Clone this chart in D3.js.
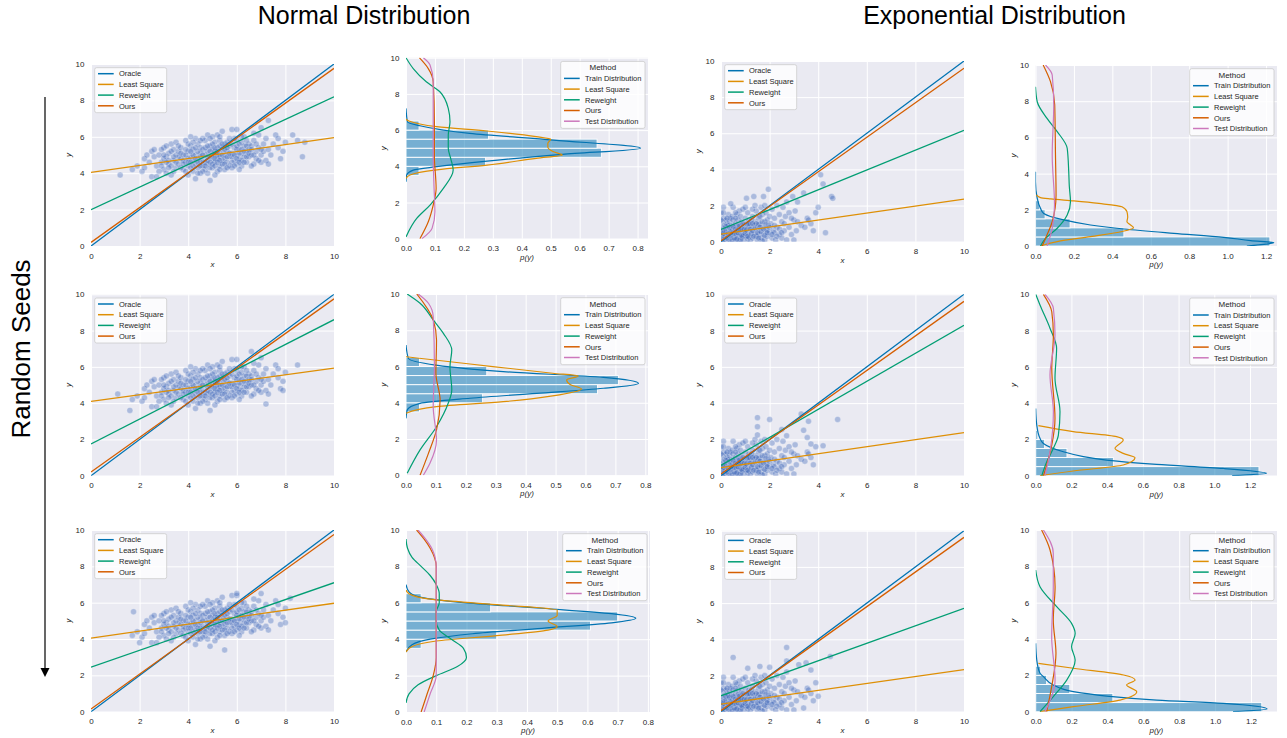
<!DOCTYPE html>
<html>
<head>
<meta charset="utf-8">
<script src="https://cdn.jsdelivr.net/npm/d3@7"></script>
<style>
body { margin: 0; background: #fff; }
text { font-family: "Liberation Sans", Arial, sans-serif; }
</style>
</head>
<body>
<script>
// ---- scatter clouds (x, y) ----
const normPts = [
  [1.7,4.2],[1.9,4.4],[2.1,4.1],[2.2,4.8],[2.3,5.0],[2.4,4.6],[2.5,5.2],[2.2,4.3],[2.6,4.9],[2.7,4.4],[2.5,3.8],
  [2.8,5.0],[2.9,4.6],[3.0,5.4],[3.0,4.2],[3.1,4.9],[3.2,5.1],[3.2,4.5],[3.3,3.9],[3.3,5.6],[3.4,4.7],[3.4,5.3],
  [3.5,4.3],[3.5,5.0],[2.8,4.1],[2.9,5.3],[3.1,4.0],[3.0,4.8],[3.2,4.7],[3.4,4.1],[3.5,5.7],[3.1,5.5],[2.7,3.8],
  [3.3,4.4],[3.6,4.9],[3.6,5.2],[3.6,4.5],
  [3.7,4.8],[3.7,5.4],[3.8,4.2],[3.8,5.0],[3.9,4.6],[3.9,5.8],[4.0,4.4],[4.0,5.2],[4.0,3.9],[4.1,4.9],[4.1,5.5],
  [4.2,4.1],[4.2,4.7],[4.2,5.3],[4.3,4.5],[4.3,5.0],[4.3,5.9],[4.4,4.3],[4.4,4.8],[4.4,5.6],[4.5,4.0],[4.5,5.1],
  [4.5,5.4],[3.8,4.7],[3.9,5.3],[4.0,4.8],[4.1,4.3],[4.2,5.0],[4.3,3.7],[4.4,5.2],[4.5,4.6],[3.7,4.3],[4.1,6.0],
  [4.2,4.4],[4.0,5.6],[4.4,4.0],
  [4.6,4.7],[4.6,5.3],[4.7,4.2],[4.7,5.0],[4.7,5.8],[4.8,4.5],[4.8,5.2],[4.8,6.1],[4.9,3.6],[4.9,4.9],[4.9,5.5],
  [5.0,4.3],[5.0,4.8],[5.0,5.3],[5.1,4.6],[5.1,5.0],[5.1,5.7],[5.2,4.1],[5.2,4.8],[5.2,5.4],[5.2,6.1],[5.3,4.4],
  [5.3,5.1],[5.3,5.8],[5.4,4.7],[5.4,5.3],[5.5,4.2],[5.5,5.0],[5.5,5.6],[4.6,4.4],[4.7,4.6],[4.8,4.9],[4.9,5.2],
  [5.0,5.0],[5.1,5.2],[5.2,5.0],[5.3,4.9],[5.4,5.0],[5.5,4.8],[4.6,5.9],[5.0,6.0],[5.4,6.3],[5.1,3.9],[4.8,4.0],
  [5.3,4.2],
  [5.6,4.6],[5.6,5.2],[5.7,4.9],[5.7,5.5],[5.8,4.3],[5.8,5.1],[5.8,6.4],[5.9,4.7],[5.9,5.4],[6.0,4.5],[6.0,5.0],
  [6.0,5.8],[6.1,4.8],[6.1,5.3],[6.2,4.4],[6.2,5.1],[6.2,5.7],[6.3,4.9],[6.3,5.5],[6.4,4.6],[6.4,5.2],[6.5,4.9],
  [6.5,5.6],[5.6,5.7],[5.7,4.4],[5.9,5.9],[6.0,6.4],[6.1,4.2],[6.3,6.0],[6.4,5.5],[5.8,4.9],[6.1,5.1],[6.2,4.7],
  [6.5,5.3],[5.6,4.9],[6.0,5.3],
  [6.6,5.0],[6.6,5.5],[6.7,4.5],[6.7,5.8],[6.8,5.2],[6.8,4.8],[6.9,5.4],[6.9,6.1],[7.0,5.0],[7.0,4.6],[7.1,5.6],
  [7.1,5.2],[7.2,4.7],[7.2,5.9],[7.3,5.3],[7.3,4.5],[7.4,5.0],[7.5,5.6],[6.7,6.2],[7.0,6.5],[6.6,4.4],
  [7.6,6.1],[7.7,5.4],[7.8,4.8],[7.9,5.2],[8.0,5.7],[7.7,5.9],
  [3.6,5.5],[3.7,5.1],[3.8,4.5],[3.9,4.1],[3.9,5.0],[4.0,4.6],[4.1,5.2],[4.1,4.6],[4.2,5.7],[4.3,4.8],[4.3,5.4],
  [4.4,4.6],[4.5,4.4],[4.5,4.9],[4.5,5.8],[4.6,5.0],[4.6,4.1],[4.7,5.4],[4.7,4.4],[4.8,4.7],[4.8,5.5],[4.9,4.3],
  [4.9,4.6],[4.9,5.9],[5.0,4.5],[5.0,5.6],[5.1,4.4],[5.1,4.8],[5.1,5.4],[5.2,4.6],[5.2,5.2],[5.3,4.7],[5.3,5.5],
  [5.3,6.0],[5.4,4.5],[5.4,5.6],[5.5,4.5],[5.5,5.3],[5.6,4.3],[5.6,5.4],[5.7,5.1],[5.7,5.9],[5.8,4.6],[5.8,5.6],
  [5.9,5.0],[5.9,4.4],[6.0,4.8],[6.0,5.5],[6.1,5.6],[6.1,4.6],[6.2,5.3],[6.2,6.0],[6.3,4.6],[6.3,5.2],[6.4,4.9],
  [6.4,5.8],[6.5,5.1],[6.6,5.3],[6.7,5.0],[6.8,5.6],[6.9,4.7],[7.0,5.3],[3.4,4.9],[3.3,5.2],[3.2,4.3],[3.0,5.0],
  [2.9,4.4],[3.5,4.6],[3.1,4.6],[2.6,5.3]
];
const normExtra = [
  [[1.2,3.9],[8.7,4.9],[8.3,6.1],[8.5,5.8],[7.3,6.9],[8.8,5.7]],
  [[1.1,4.5],[1.6,3.6],[8.5,6.1],[7.9,4.7],[7.2,3.95],[6.6,6.85]],
  [[1.75,5.5],[2.0,3.8],[5.5,3.4],[8.2,6.25],[8.0,4.9],[6.0,6.5]]
];
const expPts = [
  [0.0,0.2],[0.0,0.8],[0.0,1.6],[0.05,0.5],[0.05,1.1],[0.1,0.1],[0.1,0.7],[0.1,1.3],[0.15,0.3],[0.15,0.9],[0.2,0.05],
  [0.2,0.6],[0.2,1.2],[0.25,0.4],[0.25,1.0],[0.3,0.15],[0.3,0.7],[0.3,1.5],[0.35,0.3],[0.35,1.1],[0.4,0.05],[0.4,0.6],
  [0.45,0.9],[0.45,1.4],[0.5,0.2],[0.5,0.5],[0.5,1.2],[0.05,0.0],[0.1,1.9],[0.2,0.3],[0.3,0.9],[0.4,1.3],
  [0.5,1.9],[0.45,0.1],
  [0.55,0.8],[0.6,0.1],[0.6,0.5],[0.6,1.0],[0.65,1.5],[0.7,0.3],[0.7,0.7],[0.7,1.2],[0.75,0.05],[0.75,1.7],[0.8,0.4],
  [0.8,0.9],[0.8,1.4],[0.85,0.2],[0.85,1.1],[0.9,0.6],[0.9,1.8],[0.95,0.1],[0.95,0.9],[1.0,0.3],[1.0,0.7],[1.0,1.3],
  [1.05,1.0],[1.1,0.15],[1.1,0.5],[1.1,1.6],[1.15,0.8],[1.15,1.2],[1.2,0.05],[1.2,0.4],[0.65,0.4],
  [0.75,0.6],[0.85,0.7],[0.95,0.5],[1.0,1.9],[0.6,1.3],[0.9,0.3],[1.1,0.9],[0.55,0.2],[0.7,0.95],[0.8,0.1],[1.2,1.0],
  [1.15,0.25],
  [1.25,0.7],[1.3,1.4],[1.3,0.2],[1.35,0.9],[1.4,0.5],[1.4,1.1],[1.45,1.7],[1.5,0.1],[1.5,0.8],[1.55,0.4],
  [1.55,1.3],[1.6,0.6],[1.6,1.0],[1.65,1.9],[1.65,0.2],[1.7,0.8],[1.7,1.5],[1.75,0.4],[1.8,1.1],[1.8,0.1],
  [1.85,0.7],[1.85,1.6],[1.9,0.3],[1.9,1.2],[1.95,0.9],[2.0,0.5],[2.0,1.4],[1.3,1.8],[1.45,0.3],[1.6,1.4],
  [1.7,0.05],[1.8,2.0],[1.9,0.6],[1.4,2.0],[1.55,0.95],[1.25,1.2],
  [2.05,1.0],[2.1,0.2],[2.1,1.8],[2.15,0.6],[2.2,1.3],[2.25,0.1],[2.3,0.8],[2.3,2.0],[2.4,0.4],[2.4,1.5],[2.5,1.1],
  [2.5,0.2],[2.55,1.9],[2.6,0.6],[2.65,1.4],[2.7,0.1],[2.7,2.2],[2.8,0.8],[2.8,1.6],[2.9,0.4],[3.0,1.2],[3.0,0.1],
  [3.05,1.7],[3.1,0.6],[3.15,1.1],[2.2,0.5],[2.6,1.0],[2.9,1.3],
  [3.3,0.9],[3.45,0.8],[3.55,1.3],[3.7,1.0],[3.8,0.6],[3.9,1.6],[3.6,1.2],
  [0.05,0.3],[0.1,0.45],[0.15,0.6],[0.2,0.85],[0.25,0.2],[0.3,0.45],[0.35,0.8],[0.4,0.35],[0.45,0.6],[0.5,0.85],
  [0.55,0.45],[0.6,0.7],[0.65,0.15],[0.7,0.5],[0.75,0.85],[0.8,0.65],[0.85,0.35],[0.9,1.0],[0.95,0.7],[1.0,0.45],
  [1.05,0.65],[1.1,0.3],[1.15,1.0],[1.2,0.7],[1.25,0.45],[1.3,0.6],[1.35,0.3],[1.4,0.75],[1.45,1.0],[1.5,0.5],
  [1.55,0.2],[1.6,0.8],[1.65,0.55],[1.7,1.1],[1.75,0.7],[1.8,0.35],[1.85,0.95],[1.9,0.5],[2.0,0.8],[2.1,0.4],
  [2.2,0.9],[2.3,0.3],[2.4,0.7],[2.5,0.5],[0.0,1.2],[0.0,0.5],[0.1,1.6],[0.25,1.3],[0.6,1.6],[1.3,1.0]
];
const expExtra = [
  [[1.05,2.4],[1.35,2.5],[1.95,2.9],[2.95,2.5],[3.4,2.7],[4.0,1.9],[4.1,3.7],[4.2,3.2],[4.3,0.5],[4.55,2.5],[4.6,2.4],[0.4,2.1],[1.75,2.5],[3.15,2.2]],
  [[1.5,3.2],[1.5,2.7],[2.0,3.1],[3.3,3.4],[3.6,3.0],[3.4,2.5],[3.55,2.1],[4.2,1.65],[4.8,3.1],[2.5,2.55],[1.5,2.25],[3.7,1.75]],
  [[0.5,3.0],[1.1,2.4],[1.6,2.5],[2.7,3.55],[2.7,2.8],[3.2,2.6],[3.5,2.7],[3.7,2.3],[4.0,0.85],[4.5,3.05],[3.4,0.2],[2.0,2.45]]
];

// ---- fitted lines: y at x=0 and y at x=10, one pair per seed ----
const nOracle = [[0,10],[0,10],[0,10]];
const nLS     = [[4.05,5.95],[4.1,5.93],[4.05,5.97]];
const nRW     = [[2.0,8.2],[1.75,8.6],[2.45,7.1]];
const nOurs   = [[0.2,9.76],[0.2,9.75],[0.15,9.75]];
const eOracle = [[0,10],[0,10],[0,10]];
const eLS     = [[0.42,2.36],[0.44,2.37],[0.42,2.32]];
const eRW     = [[0.68,6.16],[0.57,8.29],[0.88,5.71]];
const eOurs   = [[0.05,9.6],[0.09,9.61],[0.06,9.63]];

// ---- histograms of y (bin edges, then densities per seed) ----
const nEdges = [3.5,4.0,4.5,5.0,5.5,6.0,6.5];
const nBars = [
  [0.045,0.275,0.675,0.66,0.285,0.045],
  [0.045,0.256,0.64,0.71,0.27,0.045],
  [0.05,0.30,0.61,0.70,0.28,0.05]
];
const eEdges = [0,0.5,1.0,1.5,2.0,2.5];
const eBars = [
  [1.22,0.46,0.18,0.05,0.022],
  [1.25,0.435,0.175,0.05,0.012],
  [1.26,0.43,0.19,0.061,0.028]
];

// ---- density curves [y, p(y)] per seed ----
const nTrain = [
  [[3.15,0],[3.5,0.002],[3.79,0.025],[3.98,0.106],[4.29,0.28],[4.66,0.54],[5.0,0.81],[5.45,0.51],[5.82,0.22],[6.24,0.048],[6.46,0.005],[7.2,0]],
  [[3.14,0],[3.6,0.004],[3.97,0.047],[4.25,0.214],[4.52,0.437],[4.8,0.66],[5.07,0.777],[5.4,0.66],[5.72,0.325],[6.08,0.1],[6.45,0.008],[7.19,0]],
  [[3.3,0],[3.7,0.02],[4.0,0.08],[4.3,0.22],[4.6,0.45],[4.9,0.68],[5.15,0.76],[5.4,0.68],[5.7,0.45],[6.0,0.2],[6.3,0.05],[6.6,0.01],[7.0,0]]
];
const nLSd = [
  [[3.33,0],[3.52,0.014],[3.8,0.106],[4.07,0.28],[4.44,0.45],[4.62,0.54],[4.8,0.51],[5.05,0.49],[5.27,0.49],[5.5,0.5],[5.64,0.45],[5.95,0.28],[6.19,0.106],[6.5,0.01],[6.6,0]],
  [[3.42,0],[3.79,0.102],[4.06,0.325],[4.38,0.49],[4.76,0.587],[5.0,0.55],[5.26,0.537],[5.48,0.576],[5.63,0.49],[6.14,0.214],[6.54,0]],
  [[3.3,0],[3.6,0.02],[3.9,0.1],[4.2,0.3],[4.5,0.47],[4.7,0.5],[5.0,0.47],[5.3,0.5],[5.6,0.5],[5.9,0.3],[6.2,0.08],[6.5,0.01],[6.7,0]]
];
const nRWd = [
  [[0.1,0],[1.12,0.037],[1.86,0.083],[2.78,0.129],[3.79,0.163],[4.4,0.155],[5.0,0.146],[5.73,0.146],[6.46,0.152],[7.2,0.146],[8.12,0.117],[8.67,0.07],[9.4,0.025],[10,0]],
  [[0.11,0.004],[1.4,0.047],[2.68,0.102],[3.97,0.141],[4.71,0.153],[5.99,0.147],[6.91,0.153],[7.83,0.125],[8.57,0.091],[9.49,0.047],[10,0.004]],
  [[0.5,0],[1,0.01],[1.5,0.04],[2,0.1],[2.5,0.17],[3,0.2],[3.5,0.19],[4,0.15],[4.5,0.11],[5,0.1],[5.5,0.1],[6,0.11],[6.5,0.11],[7,0.1],[7.5,0.08],[8,0.05],[8.5,0.02],[9,0.005],[9.5,0]]
];
const nOursd = [
  [[0,0.048],[0.94,0.077],[1.86,0.094],[2.78,0.104],[4.62,0.098],[6.46,0.098],[8.67,0.094],[9.4,0.077],[10,0.046]],
  [[0,0.047],[1.21,0.075],[2.5,0.102],[4.15,0.114],[5.63,0.1],[7.46,0.102],[8.57,0.091],[10,0.036]],
  [[0,0.05],[1,0.07],[2,0.09],[3,0.1],[5,0.1],[7,0.1],[8,0.1],[9,0.08],[9.5,0.06],[10,0.035]]
];
const nTest = [
  [[0,0.055],[0.57,0.09],[1.49,0.1],[2.78,0.097],[4.6,0.094],[6.5,0.094],[8.67,0.094],[9.6,0.083],[10,0.06]],
  [[0,0.058],[0.66,0.08],[1.95,0.102],[3.79,0.091],[6.0,0.095],[8.75,0.091],[9.49,0.075],[10,0.041]],
  [[0,0.06],[1,0.08],[2,0.1],[4,0.1],[6,0.1],[8,0.1],[9,0.085],[9.5,0.065],[10,0.04]]
];
const eTrain = [
  [[0,1.1],[0.1,1.2],[0.18,1.24],[0.3,1.12],[0.48,0.98],[0.7,0.72],[0.94,0.46],[1.16,0.286],[1.44,0.147],[1.8,0.043],[2.08,0.026],[2.63,0.009],[3.55,0],[4.1,0]],
  [[0,1.1],[0.13,1.293],[0.4,1.05],[0.62,0.677],[0.86,0.397],[1.05,0.267],[1.32,0.155],[1.78,0.043],[2.06,0.024],[2.79,0.006],[3.71,0]],
  [[0,1.1],[0.15,1.29],[0.46,1.046],[0.64,0.675],[0.86,0.396],[1.1,0.21],[1.47,0.098],[1.93,0.043],[2.11,0.024],[2.84,0.006],[3.76,0]]
];
const eLSd = [
  [[0,0.026],[0.24,0.113],[0.52,0.286],[0.8,0.45],[1.01,0.51],[1.2,0.49],[1.34,0.476],[1.6,0.48],[1.9,0.476],[2.17,0.45],[2.35,0.33],[2.49,0.2],[2.6,0.08],[2.67,0.026],[2.82,0.005]],
  [[0,0.024],[0.26,0.21],[0.59,0.49],[0.99,0.556],[1.23,0.49],[1.51,0.444],[1.97,0.49],[2.15,0.453],[2.43,0.21],[2.76,0.015]],
  [[0,0.024],[0.28,0.21],[0.64,0.47],[1.1,0.563],[1.47,0.507],[1.74,0.554],[2.02,0.49],[2.39,0.21],[2.66,0.015]]
];
const eRWd = [
  [[0,0.026],[0.42,0.052],[0.98,0.113],[1.71,0.165],[2.45,0.182],[3.3,0.176],[4.1,0.173],[5.4,0.165],[6.32,0.113],[7.05,0.06],[7.97,0.009],[8.8,0]],
  [[0,0.034],[0.77,0.062],[1.51,0.099],[2.24,0.127],[3.53,0.136],[5.37,0.108],[7.02,0.117],[8.13,0.08],[9.41,0.024],[10,0]],
  [[0,0.024],[0.83,0.098],[1.74,0.173],[2.84,0.22],[3.58,0.2],[4.31,0.22],[4.86,0.2],[5.78,0.117],[6.88,0.024],[7.8,0]]
];
const eOursd = [
  [[0,0.035],[0.42,0.052],[1.34,0.087],[2.82,0.107],[5.03,0.104],[7.8,0.1],[9.08,0.078],[10,0.04]],
  [[0,0.043],[0.59,0.062],[1.69,0.09],[3.16,0.108],[5.92,0.09],[7.76,0.099],[9.04,0.09],[10,0.043]],
  [[0,0.061],[1.38,0.089],[3.21,0.113],[5.05,0.098],[6.88,0.108],[8.9,0.08],[10,0.033]]
];
const eTest = [
  [[0,0.06],[0.98,0.087],[2.27,0.099],[5.03,0.087],[7.8,0.095],[9.45,0.087],[10,0.052]],
  [[0,0.052],[1.32,0.08],[3.53,0.099],[5.55,0.08],[7.76,0.108],[9.23,0.099],[10,0.052]],
  [[0,0.052],[1.74,0.108],[4.13,0.089],[6.88,0.098],[8.72,0.098],[10,0.043]]
];

// ---- labels / ticks ----
const colTitles = ['Normal Distribution', 'Exponential Distribution'];
const scatterNames = ['Oracle', 'Least Square', 'Reweight', 'Ours'];
const densityNames = ['Train Distribution', 'Least Square', 'Reweight', 'Ours', 'Test Distribution'];
const xyTicks = [0, 2, 4, 6, 8, 10];
const nDensTicks = [0, 0.1, 0.2, 0.3, 0.4, 0.5, 0.6, 0.7, 0.8];
const eDensTicks = [0, 0.2, 0.4, 0.6, 0.8, 1.0, 1.2];
const nDensMax = [0.836, 0.809, 0.807];
const eDensMax = [1.257, 1.351, 1.345];

// ---- layout ----
const W = 1287, H = 738;
const BG = '#EAEAF2', INK = '#262626';
const scatterColors = ['#0173B2', '#DE8F05', '#029E73', '#D55E00'];
const densColors = ['#0173B2', '#DE8F05', '#029E73', '#D55E00', '#CC78BC'];
// axes boxes [left, top, right, bottom] per row, per column
const boxes = [
  [[91,64,334,246],[406,57.7,648,238.7],[721,61,964,241.7],[1035.5,65,1277,246]],
  [[91,294.3,334,475.7],[406,294,648,475.3],[721,294.3,964,475.7],[1035.7,294.3,1277,475.7]],
  [[91,530,334,711.7],[406,530,650,712],[721,530.7,964,711.7],[1035.7,530,1277,711.7]]
];

const svg = d3.select('body').append('svg').attr('width', W).attr('height', H);
let clipId = 0;

function styleAxis(a) {
  a.select('.domain').remove();
  a.selectAll('.tick line').attr('stroke', '#fff').attr('stroke-width', 1);
  a.selectAll('.tick text').attr('fill', INK).style('font-size', '8px');
}

function frame(box, x, y, xt, yt, xfmt, yfmt, xlab, ylab) {
  const g = svg.append('g');
  g.append('rect').attr('x', box[0]).attr('y', box[1])
    .attr('width', box[2] - box[0]).attr('height', box[3] - box[1]).attr('fill', BG);
  g.append('g').attr('transform', `translate(0,${box[3]})`)
    .call(d3.axisBottom(x).tickValues(xt).tickFormat(xfmt).tickSize(-(box[3] - box[1])).tickPadding(7))
    .call(styleAxis);
  g.append('g').attr('transform', `translate(${box[0]},0)`)
    .call(d3.axisLeft(y).tickValues(yt).tickFormat(yfmt).tickSize(-(box[2] - box[0])).tickPadding(6.5))
    .call(styleAxis);
  g.append('text').attr('x', (box[0] + box[2]) / 2).attr('y', box[3] + 21)
    .attr('text-anchor', 'middle').attr('fill', INK).style('font-size', '8px').style('font-style', 'italic')
    .text(xlab);
  g.append('text').attr('transform', `translate(${box[0] - 20},${(box[1] + box[3]) / 2}) rotate(-90)`)
    .attr('text-anchor', 'middle').attr('fill', INK).style('font-size', '8px').style('font-style', 'italic')
    .text(ylab);
  const id = 'clip' + (clipId++);
  g.append('clipPath').attr('id', id).append('rect').attr('x', box[0]).attr('y', box[1])
    .attr('width', box[2] - box[0]).attr('height', box[3] - box[1]);
  return g.append('g').attr('clip-path', `url(#${id})`);
}

function legend(box, names, colors, title, corner) {
  const w = title ? 84.3 : 72, h = title ? 67 : 45;
  const x0 = corner === 'right' ? box[2] - 3 - w : box[0] + 3.7;
  const y0 = box[1] + 3.7;
  const g = svg.append('g');
  g.append('rect').attr('x', x0).attr('y', y0).attr('width', w).attr('height', h).attr('rx', 2)
    .attr('fill', '#fff').attr('fill-opacity', 0.8).attr('stroke', '#cccccc').attr('stroke-width', 0.8);
  let top = y0 + 6;
  if (title) {
    g.append('text').attr('x', x0 + w / 2).attr('y', top + 2.8).attr('text-anchor', 'middle')
      .attr('fill', INK).style('font-size', '8px').text(title);
    top += 11;
  }
  names.forEach((n, i) => {
    const cy = top + i * 10.7;
    g.append('line').attr('x1', x0 + 3.3).attr('x2', x0 + 19).attr('y1', cy).attr('y2', cy)
      .attr('stroke', colors[i]).attr('stroke-width', 1.5);
    g.append('text').attr('x', x0 + 24.3).attr('y', cy + 2.7).attr('fill', INK)
      .style('font-size', '7.5px').text(n);
  });
}

function scatterPanel(box, pts, lineSets) {
  const x = d3.scaleLinear().domain([0, 10]).range([box[0], box[2]]);
  const y = d3.scaleLinear().domain([0, 10]).range([box[3], box[1]]);
  const plot = frame(box, x, y, xyTicks, xyTicks, d3.format('d'), d3.format('d'), 'x', 'y');
  plot.selectAll('circle').data(pts).enter().append('circle')
    .attr('cx', d => x(d[0])).attr('cy', d => y(d[1])).attr('r', 3)
    .attr('fill', '#2b58b4').attr('fill-opacity', 0.33)
    .attr('stroke', '#fff').attr('stroke-opacity', 0.5).attr('stroke-width', 0.5);
  const line = d3.line().x(d => x(d[0])).y(d => y(d[1]));
  lineSets.forEach((ab, i) => {
    plot.append('path').attr('d', line([[0, ab[0]], [10, ab[1]]]))
      .attr('fill', 'none').attr('stroke', scatterColors[i]).attr('stroke-width', 1.3);
  });
  legend(box, scatterNames, scatterColors, null, 'left');
}

function densityPanel(box, xmax, ticks, edges, bars, curves) {
  const x = d3.scaleLinear().domain([0, xmax]).range([box[0], box[2]]);
  const y = d3.scaleLinear().domain([0, 10]).range([box[3], box[1]]);
  const plot = frame(box, x, y, ticks, xyTicks, d3.format('.1f'), d3.format('d'), 'p(y)', 'y');
  plot.selectAll('rect.bar').data(bars).enter().append('rect').attr('class', 'bar')
    .attr('x', x(0)).attr('y', (d, i) => y(edges[i + 1]))
    .attr('width', d => x(d) - x(0)).attr('height', (d, i) => y(edges[i]) - y(edges[i + 1]))
    .attr('fill', '#0173B2').attr('fill-opacity', 0.5)
    .attr('stroke', '#fff').attr('stroke-width', 0.9);
  const line = d3.line().x(d => x(d[1])).y(d => y(d[0])).curve(d3.curveMonotoneY);
  curves.forEach((c, i) => {
    plot.append('path').attr('d', line(c)).attr('fill', 'none')
      .attr('stroke', densColors[i]).attr('stroke-width', 1.2);
  });
  legend(box, densityNames, densColors, 'Method', 'right');
}

for (let r = 0; r < 3; r++) {
  scatterPanel(boxes[r][0], normPts.concat(normExtra[r]), [nOracle[r], nLS[r], nRW[r], nOurs[r]]);
  densityPanel(boxes[r][1], nDensMax[r], nDensTicks, nEdges, nBars[r],
    [nTrain[r], nLSd[r], nRWd[r], nOursd[r], nTest[r]]);
  scatterPanel(boxes[r][2], expPts.concat(expExtra[r]), [eOracle[r], eLS[r], eRW[r], eOurs[r]]);
  densityPanel(boxes[r][3], eDensMax[r], eDensTicks, eEdges, eBars[r],
    [eTrain[r], eLSd[r], eRWd[r], eOursd[r], eTest[r]]);
}

// column titles
svg.selectAll('text.coltitle').data(colTitles).enter().append('text').attr('class', 'coltitle')
  .attr('x', (d, i) => i === 0 ? 364 : 994.5).attr('y', 23.5)
  .attr('text-anchor', 'middle').attr('fill', '#000').style('font-size', '25px').text(d => d);

// seed arrow
svg.append('text').attr('transform', 'translate(29.5,349) rotate(-90)').attr('text-anchor', 'middle')
  .attr('fill', '#000').style('font-size', '26px').text('Random Seeds');
svg.append('line').attr('x1', 45).attr('x2', 45).attr('y1', 97).attr('y2', 669)
  .attr('stroke', '#000').attr('stroke-width', 1.2);
svg.append('path').attr('d', 'M40.5,668 L49.5,668 L45,677 Z').attr('fill', '#000');
</script>
</body>
</html>
